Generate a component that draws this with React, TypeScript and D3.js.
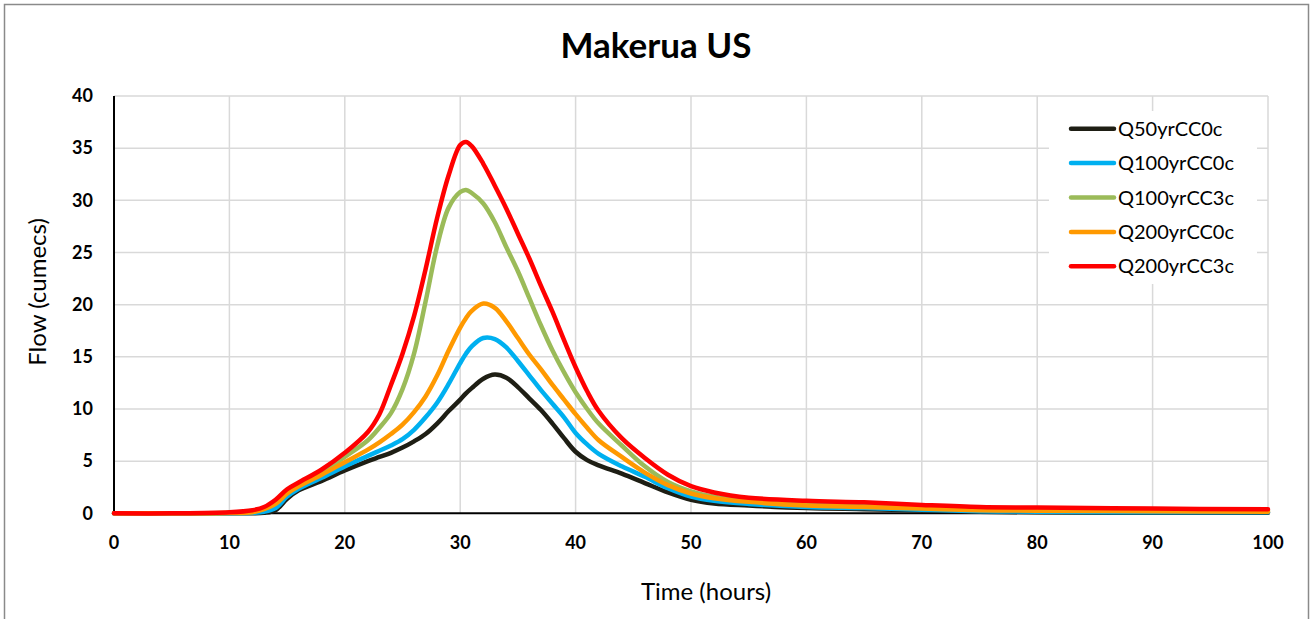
import React, { useEffect, useRef } from 'react';
import * as d3 from 'd3';

// Time axis (hours) shared by all series
const hours = [0, 5, 10, 12, 13, 14, 15, 16, 18, 20, 22, 23, 24, 25, 26, 27, 28, 29, 30, 30.5, 31, 32, 33, 34, 35, 36, 37, 38, 39, 40, 41, 42, 44, 46, 48, 50, 52, 55, 60, 65, 70, 75, 80, 90, 100];

const q50cc0 = [0, 0, 0, 0, 0.05, 0.3, 1.4, 2.2, 3.1, 4.1, 5.0, 5.4, 5.8, 6.3, 6.9, 7.6, 8.6, 9.8, 10.9, 11.5, 12.0, 12.9, 13.3, 13.0, 12.1, 11.0, 9.9, 8.6, 7.2, 5.9, 5.1, 4.6, 3.8, 2.9, 2.0, 1.3, 0.95, 0.75, 0.5, 0.4, 0.3, 0.15, 0.1, 0.05, 0.05];
const q100cc0 = [0, 0, 0, 0.05, 0.15, 0.5, 1.6, 2.35, 3.4, 4.5, 5.5, 6.0, 6.5, 7.1, 8.0, 9.2, 10.6, 12.4, 14.4, 15.3, 16.0, 16.8, 16.7, 15.9, 14.6, 13.2, 11.8, 10.5, 9.2, 7.7, 6.6, 5.7, 4.5, 3.5, 2.4, 1.6, 1.2, 0.9, 0.6, 0.5, 0.35, 0.2, 0.15, 0.1, 0.1];
const q100cc3 = [0, 0, 0.05, 0.2, 0.45, 1.1, 2.1, 2.8, 3.9, 5.4, 7.0, 8.2, 9.6, 11.9, 15.3, 20.3, 25.6, 29.3, 30.8, 31.0, 30.7, 29.7, 27.9, 25.5, 23.2, 20.6, 18.0, 15.6, 13.5, 11.6, 10.0, 8.6, 6.5, 4.5, 3.0, 2.1, 1.6, 1.2, 0.9, 0.75, 0.55, 0.4, 0.35, 0.3, 0.25];
const q200cc0 = [0, 0, 0.02, 0.1, 0.4, 0.9, 1.9, 2.6, 3.7, 4.9, 6.1, 6.8, 7.6, 8.5, 9.7, 11.2, 13.2, 15.6, 17.8, 18.7, 19.4, 20.1, 19.7, 18.4, 16.8, 15.2, 13.8, 12.3, 10.9, 9.5, 8.2, 7.0, 5.4, 3.9, 2.7, 1.9, 1.45, 1.1, 0.75, 0.6, 0.45, 0.3, 0.25, 0.2, 0.15];
const q200cc3 = [0, 0, 0.1, 0.3, 0.6, 1.3, 2.3, 2.95, 4.2, 5.8, 7.8, 9.5, 12.3, 15.3, 18.9, 23.4, 28.3, 32.4, 35.3, 35.6, 35.2, 33.5, 31.4, 29.2, 26.8, 24.4, 21.8, 19.3, 16.6, 14.0, 11.7, 9.8, 7.2, 5.3, 3.7, 2.6, 2.0, 1.5, 1.2, 1.05, 0.8, 0.6, 0.55, 0.45, 0.38];

const seriesNames = ['Q50yrCC0c', 'Q100yrCC0c', 'Q100yrCC3c', 'Q200yrCC0c', 'Q200yrCC3c'];
const seriesValues = [q50cc0, q100cc0, q100cc3, q200cc0, q200cc3];
const seriesColors = ['#1e1e14', '#00b0f0', '#9bbb59', '#ff9900', '#ff0000'];

const xTicks = [0, 10, 20, 30, 40, 50, 60, 70, 80, 90, 100];
const yTicks = [0, 5, 10, 15, 20, 25, 30, 35, 40];

const App = () => {
  const ref = useRef<SVGSVGElement | null>(null);

  useEffect(() => {
    const font = 'Lato, "Open Sans", sans-serif';
    const svg = d3.select(ref.current);
    svg.selectAll('*').remove();

    // outer frame
    svg.append('rect')
      .attr('x', 4.5).attr('y', 4.5)
      .attr('width', 1304).attr('height', 640)
      .attr('fill', '#fff')
      .attr('stroke', '#8a8a8a')
      .attr('stroke-width', 1.5);

    const x = d3.scaleLinear().domain([0, 100]).range([114, 1268]);
    const y = d3.scaleLinear().domain([0, 40]).range([513.3, 96]);

    // gridlines
    const grid = svg.append('g').attr('stroke', '#d9d9d9').attr('stroke-width', 1.5);
    grid.selectAll('.gx').data(xTicks.slice(1)).enter().append('line')
      .attr('x1', d => x(d)).attr('x2', d => x(d))
      .attr('y1', y(0)).attr('y2', y(40));
    grid.selectAll('.gy').data(yTicks.slice(1)).enter().append('line')
      .attr('x1', x(0)).attr('x2', x(100))
      .attr('y1', d => y(d)).attr('y2', d => y(d));

    // axes
    svg.append('line')
      .attr('x1', x(0)).attr('x2', x(100))
      .attr('y1', y(0)).attr('y2', y(0))
      .attr('stroke', '#000').attr('stroke-width', 2);
    svg.append('line')
      .attr('x1', x(0)).attr('x2', x(0))
      .attr('y1', y(0)).attr('y2', y(40))
      .attr('stroke', '#000').attr('stroke-width', 2);

    // tick labels
    svg.selectAll('.xt').data(xTicks).enter().append('text')
      .attr('x', d => x(d)).attr('y', 543)
      .attr('dy', '0.35em')
      .attr('text-anchor', 'middle')
      .style('font-family', font).style('font-size', '18px').style('font-weight', 'bold')
      .attr('fill', '#000')
      .text(d => d);
    svg.selectAll('.yt').data(yTicks).enter().append('text')
      .attr('x', 93).attr('y', d => y(d))
      .attr('dy', '0.35em')
      .attr('text-anchor', 'end')
      .style('font-family', font).style('font-size', '18px').style('font-weight', 'bold')
      .attr('fill', '#000')
      .text(d => d);

    // lines
    const line = d3.line<number>()
      .x((_, i) => x(hours[i]))
      .y(d => y(d))
      .curve(d3.curveCatmullRom.alpha(0.5));
    seriesValues.forEach((vals, i) => {
      svg.append('path')
        .attr('d', line(vals))
        .attr('fill', 'none')
        .attr('stroke', seriesColors[i])
        .attr('stroke-width', 4.5)
        .attr('stroke-linejoin', 'round')
        .attr('stroke-linecap', 'round');
    });

    // legend
    svg.append('rect')
      .attr('x', 1049).attr('y', 111)
      .attr('width', 208).attr('height', 173)
      .attr('fill', '#fff');
    const leg = svg.selectAll('.lg').data(seriesNames).enter().append('g')
      .attr('transform', (_, i) => `translate(0,${128.7 + i * 34.4})`);
    leg.append('line')
      .attr('x1', 1071).attr('x2', 1114)
      .attr('stroke', (_, i) => seriesColors[i])
      .attr('stroke-width', 4.5)
      .attr('stroke-linecap', 'round');
    leg.append('text')
      .attr('x', 1118).attr('dy', '0.35em')
      .style('font-family', font).style('font-size', '20px')
      .attr('fill', '#000')
      .text(d => d);

    // titles
    svg.append('text')
      .attr('x', 656).attr('y', 46).attr('dy', '0.35em')
      .attr('text-anchor', 'middle')
      .style('font-family', font).style('font-size', '35px').style('font-weight', 'bold')
      .text('Makerua US');
    svg.append('text')
      .attr('x', 706).attr('y', 592).attr('dy', '0.35em')
      .attr('text-anchor', 'middle')
      .style('font-family', font).style('font-size', '24px')
      .text('Time (hours)');
    svg.append('text')
      .attr('transform', 'translate(38,292) rotate(-90)')
      .attr('dy', '0.35em')
      .attr('text-anchor', 'middle')
      .style('font-family', font).style('font-size', '24px')
      .text('Flow (cumecs)');
  }, []);

  return (
    <svg
      ref={ref}
      width={1311}
      height={619}
      style={{ position: 'absolute', left: 0, top: 0, background: '#fff' }}
    />
  );
};

export default App;
